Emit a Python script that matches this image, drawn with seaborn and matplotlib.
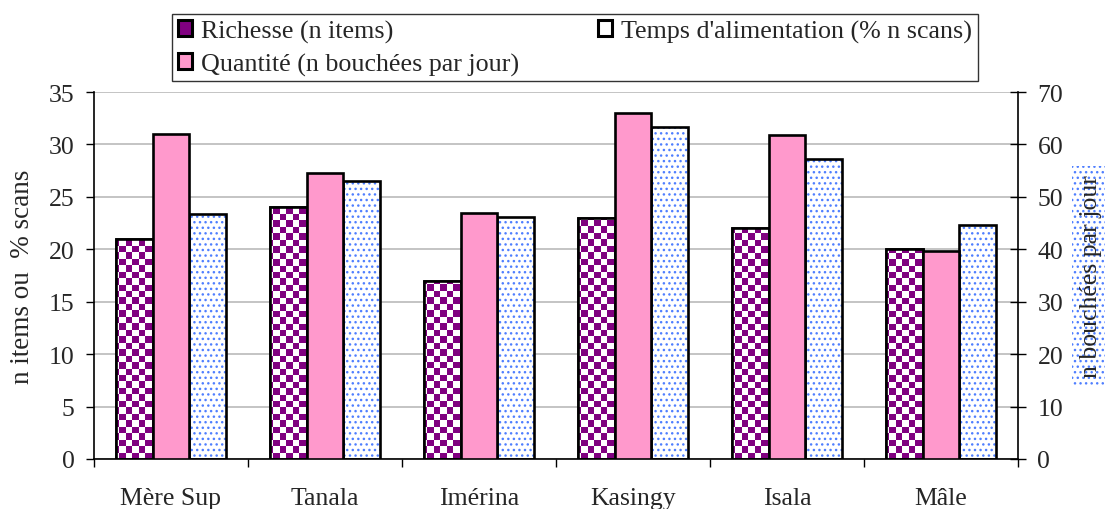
import numpy as np
import pandas as pd
import matplotlib
matplotlib.use("Agg")
import matplotlib.pyplot as plt
import seaborn as sns
from matplotlib.patches import Rectangle, Patch

# Data
groupes = ["Mère Sup", "Tanala", "Imérina", "Kasingy", "Isala", "Mâle"]
richesse = [21, 24, 17, 23, 22, 20]                  # n items (left axis)
quantite = [62, 54.6, 47, 66, 61.8, 39.6]            # n bouchées par jour (right axis)
temps = [23.4, 26.5, 23.1, 31.7, 28.6, 22.3]         # % n scans (left axis)

series = ["Richesse (n items)",
          "Quantité (n bouchées par jour)",
          "Temps d'alimentation (% n scans)"]

PURPLE = "#800080"
PINK = "#FF99CC"
DOTS = "#4F7FFF"

sns.set_theme(style="white")
plt.rcParams["font.family"] = ["Liberation Serif", "DejaVu Serif"]
plt.rcParams["hatch.linewidth"] = 1.0

fig = plt.figure(figsize=(11.05, 5.10), dpi=100)
ax = fig.add_axes([94 / 1105, 1 - 460 / 510, (1018 - 94) / 1105, (460 - 93) / 510])
ax2 = ax.twinx()

df = pd.DataFrame({
    "groupe": groupes * 3,
    "serie": [s for s in series for _ in groupes],
    "valeur": richesse + quantite + temps,
})

palette = {series[0]: "white", series[1]: PINK, series[2]: "white"}
common = dict(data=df, x="groupe", y="valeur", hue="serie", hue_order=series, order=groupes,
              palette=palette, width=0.71, saturation=1, legend=False,
              edgecolor="black", linewidth=1.9, errorbar=None)

# Same dodged layout on both axes; each axis keeps only its own series
sns.barplot(ax=ax, **common)
sns.barplot(ax=ax2, **common)


def slot(bar):
    cx = bar.get_x() + bar.get_width() / 2
    off = cx - round(cx)
    return 0 if off < -0.1 else (2 if off > 0.1 else 1)


rich_bars, temps_bars = [], []
for b in list(ax.patches):
    s = slot(b)
    if s == 1:
        b.remove()
    elif s == 0:
        rich_bars.append(b)
    else:
        temps_bars.append(b)
for b in list(ax2.patches):
    if slot(b) != 1:
        b.remove()

ax.set_xlim(-0.5, len(groupes) - 0.5)
ax.set_ylim(0, 35)
ax2.set_ylim(0, 70)
ax.set_yticks(np.arange(0, 36, 5))
ax2.set_yticks(np.arange(0, 71, 10))

# Checkerboard fill for Richesse
cell_px = 6.4
ncols = int(round(924 / cell_px))
nrows = int(round(367 / cell_px))
yy, xx = np.mgrid[0:nrows, 0:ncols]
checker = ((xx + yy) % 2 == 0)
rgba = np.zeros((nrows, ncols, 4))
rgba[checker] = matplotlib.colors.to_rgba(PURPLE)
rgba[~checker] = (1, 1, 1, 1)
for b in rich_bars:
    im = ax.imshow(rgba, extent=(0, 1, 0, 1), transform=ax.transAxes,
                   interpolation="nearest", aspect="auto", zorder=b.get_zorder() + 0.1)
    im.set_clip_path(b)

# Dotted fill for Temps
for b in temps_bars:
    b.set_hatch("...")
    b.set_edgecolor(DOTS)
    b.set_linewidth(0)

# Black outlines on top of the textured bars
for b in rich_bars + temps_bars:
    ax.add_patch(Rectangle(b.get_xy(), b.get_width(), b.get_height(), fill=False,
                           edgecolor="black", linewidth=1.9, zorder=b.get_zorder() + 0.2))
ax.set_xlim(-0.5, len(groupes) - 0.5)
ax.set_ylim(0, 35)

# Grid and spines
ax.yaxis.grid(True, color="#BFBFBF", linewidth=1.3)
ax.set_axisbelow(True)
for s in ["top", "right"]:
    ax.spines[s].set_visible(False)
for s in ["top", "left", "bottom"]:
    ax2.spines[s].set_visible(False)
for s in ["left", "bottom"]:
    ax.spines[s].set_color("black")
    ax.spines[s].set_linewidth(1.2)
ax2.spines["right"].set_color("black")
ax2.spines["right"].set_linewidth(1.2)

# Ticks
ax.set_xticks(range(len(groupes)))
ax.set_xticklabels(groupes)
ax.set_xticks(np.arange(-0.5, len(groupes)), minor=True)
ax.tick_params(axis="x", which="major", length=0, pad=20, labelsize=18.5)
ax.tick_params(axis="x", which="minor", direction="out", length=6, width=1, color="black", bottom=True)
ax.tick_params(axis="y", direction="out", length=6, width=1, color="black",
               pad=8, labelsize=18.5, left=True)
ax2.tick_params(axis="y", direction="inout", length=12, width=1, color="black",
                pad=8, labelsize=18.5, right=True)

ax.set_xlabel("")
ax.set_ylabel("n items ou  % scans", fontsize=19.5, labelpad=10)
ax2.set_ylabel("n bouchées par jour", fontsize=18.5, labelpad=12,
               bbox=dict(boxstyle="square,pad=0.3", facecolor="white",
                         edgecolor=DOTS, linewidth=0, hatch="..."))

# Legend
handles = [
    Patch(facecolor=PURPLE, edgecolor="black", linewidth=2.2, label=series[0]),
    Patch(facecolor=PINK, edgecolor="black", linewidth=2.2, label=series[1]),
    Patch(facecolor="white", edgecolor="black", linewidth=2.2, label=series[2]),
]
leg = fig.legend(handles=handles, ncol=2, loc="upper left",
                 bbox_to_anchor=(172 / 1105, 1 - 15 / 510, (978 - 172) / 1105, 0),
                 mode="expand", frameon=True, fancybox=False, shadow=False,
                 fontsize=18.7, handlelength=0.55, handleheight=0.55, handletextpad=0.35,
                 labelspacing=0.38, borderpad=0.22, borderaxespad=0)
leg.get_frame().set_edgecolor("black")
leg.get_frame().set_linewidth(1.0)

fig.savefig("out.png", dpi=100)
